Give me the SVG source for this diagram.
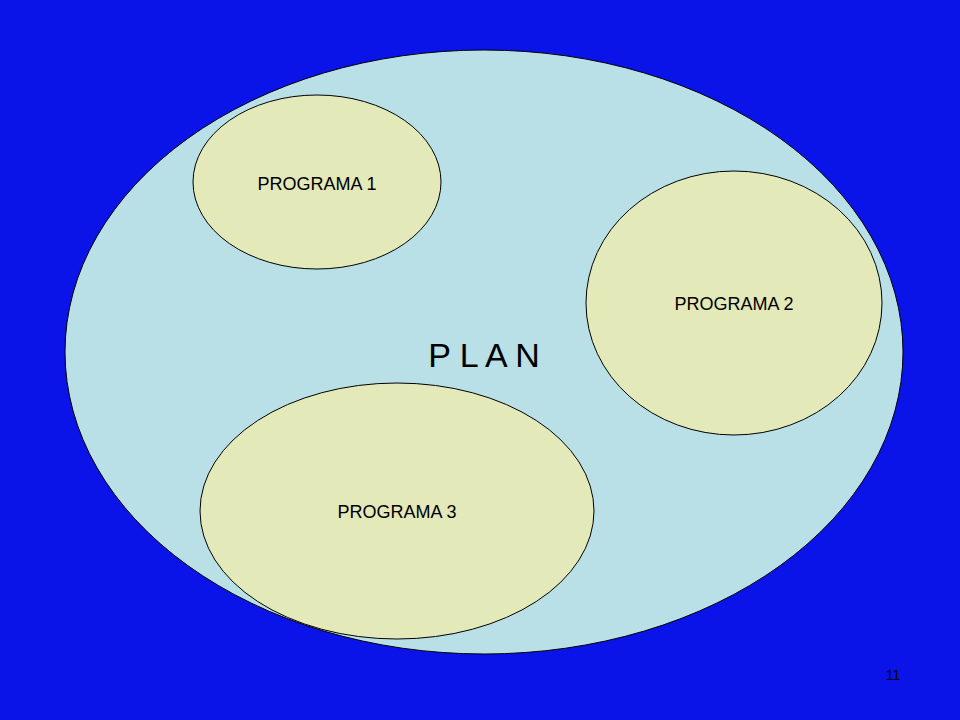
<svg xmlns="http://www.w3.org/2000/svg" width="960" height="720" viewBox="0 0 960 720">
<style>
.p{fill:#e3e9b8;stroke:#000;stroke-width:1}
.t{font-family:"Liberation Sans",Arial,sans-serif;fill:#000;text-anchor:middle}
</style>
<rect width="960" height="720" fill="#0a14e8"/>
<g id="plan">
<ellipse cx="484" cy="352" rx="419" ry="302" fill="#b9e0e6" stroke="#000"/>
<text class="t" x="484" y="367" font-size="34">P L A N</text>
</g>
<g id="programa1">
<ellipse class="p" cx="317" cy="182" rx="124" ry="87"/>
<text class="t" x="317" y="190" font-size="18">PROGRAMA 1</text>
</g>
<g id="programa2">
<ellipse class="p" cx="734" cy="303" rx="148" ry="132"/>
<text class="t" x="734" y="310" font-size="18">PROGRAMA 2</text>
</g>
<g id="programa3">
<ellipse class="p" cx="397" cy="511" rx="197" ry="128"/>
<text class="t" x="397" y="518" font-size="18">PROGRAMA 3</text>
</g>
<g id="connectors"/>
<text class="t" x="893" y="680" font-size="14">11</text>
</svg>
